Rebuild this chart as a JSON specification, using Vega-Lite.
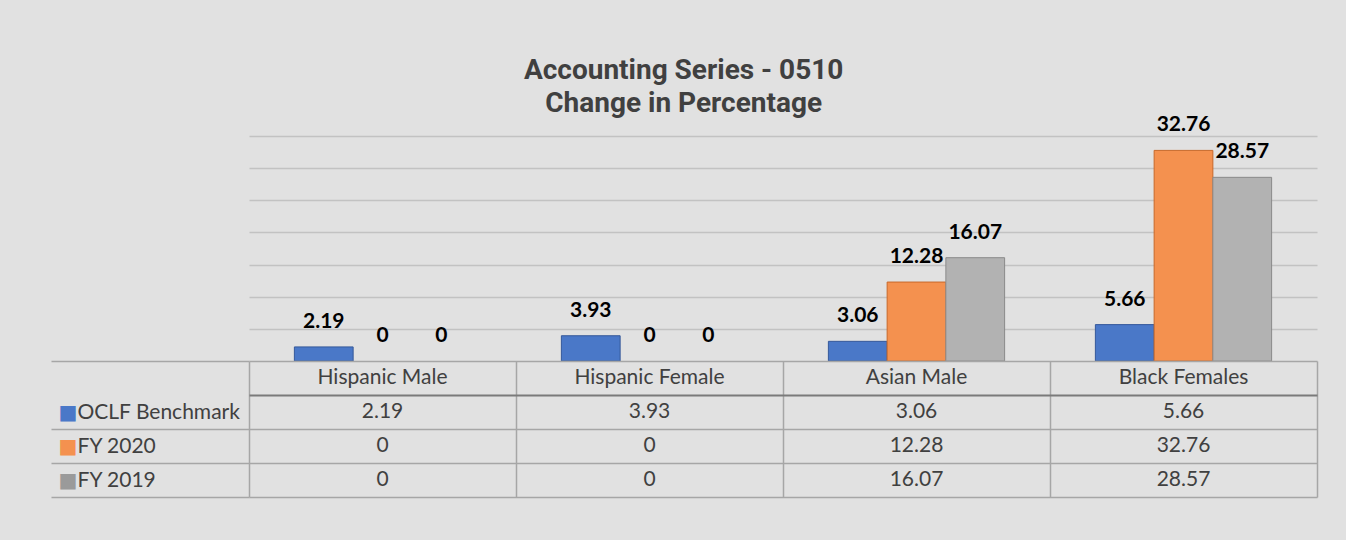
{
  "$schema": "https://vega.github.io/schema/vega-lite/v6.json",
  "background": "#e1e1e1",
  "padding": {"left": 50, "right": 30, "top": 57, "bottom": 42},
  "bounds": "flush",
  "spacing": 0,
  "title": {
    "text": ["Accounting Series - 0510", "Change in Percentage"],
    "fontSize": 28,
    "font": "Roboto",
    "fontWeight": "bold",
    "color": "#404040",
    "lineHeight": 33,
    "anchor": "middle",
    "offset": -4
  },
  "config": {"view": {"stroke": null}, "font": "Lato"},
  "datasets": {
    "d": [
      {"group": "Hispanic Male", "series": "OCLF Benchmark", "value": 2.19},
      {"group": "Hispanic Male", "series": "FY 2020", "value": 0},
      {"group": "Hispanic Male", "series": "FY 2019", "value": 0},
      {"group": "Hispanic  Female", "series": "OCLF Benchmark", "value": 3.93},
      {"group": "Hispanic  Female", "series": "FY 2020", "value": 0},
      {"group": "Hispanic  Female", "series": "FY 2019", "value": 0},
      {"group": "Asian Male", "series": "OCLF Benchmark", "value": 3.06},
      {"group": "Asian Male", "series": "FY 2020", "value": 12.28},
      {"group": "Asian Male", "series": "FY 2019", "value": 16.07},
      {"group": "Black Females", "series": "OCLF Benchmark", "value": 5.66},
      {"group": "Black Females", "series": "FY 2020", "value": 32.76},
      {"group": "Black Females", "series": "FY 2019", "value": 28.57}
    ]
  },
  "vconcat": [
    {
      "width": 1068,
      "height": 225,
      "data": {"name": "d"},
      "encoding": {
        "x": {
          "field": "group", "type": "nominal",
          "sort": ["Hispanic Male", "Hispanic  Female", "Asian Male", "Black Females"],
          "scale": {"paddingInner": 0.34, "paddingOuter": 0.17},
          "axis": null
        },
        "xOffset": {
          "field": "series", "type": "nominal",
          "sort": ["OCLF Benchmark", "FY 2020", "FY 2019"],
          "scale": {"paddingInner": 0, "paddingOuter": 0}
        },
        "y": {
          "field": "value", "type": "quantitative",
          "scale": {"domain": [0, 35], "nice": false},
          "axis": {
            "values": [5, 10, 15, 20, 25, 30, 35],
            "labels": false, "ticks": false, "domain": false,
            "grid": true, "gridColor": "#c2c2c2", "gridWidth": 1.5,
            "title": null
          }
        }
      },
      "layer": [
        {
          "mark": {"type": "bar", "strokeWidth": 1},
          "encoding": {
            "color": {
              "field": "series", "type": "nominal",
              "scale": {"domain": ["OCLF Benchmark", "FY 2020", "FY 2019"], "range": ["#4a78c8", "#f4914f", "#b2b2b2"]},
              "legend": null
            },
            "stroke": {
              "field": "series", "type": "nominal",
              "scale": {"domain": ["OCLF Benchmark", "FY 2020", "FY 2019"], "range": ["#35589a", "#c8682a", "#8a8a8a"]},
              "legend": null
            },
            "strokeOpacity": {"condition": {"test": "datum.value === 0", "value": 0}, "value": 1}
          }
        },
        {
          "mark": {"type": "text", "fontWeight": "bold", "fontSize": 21, "baseline": "middle", "dy": -25, "color": "#000000", "font": "Lato"},
          "encoding": {"text": {"field": "value", "type": "nominal"}}
        }
      ]
    },
    {
      "width": 1068,
      "height": 136,
      "data": {"name": "d"},
      "resolve": {"scale": {"y": "independent"}},
      "layer": [
        {
          "mark": {"type": "text", "fontSize": 21, "color": "#404040", "font": "Lato"},
          "encoding": {
            "x": {
              "field": "group", "type": "nominal",
              "sort": ["Hispanic Male", "Hispanic  Female", "Asian Male", "Black Females"],
              "scale": {"paddingInner": 0, "paddingOuter": 0},
              "axis": {"labels": false, "ticks": false, "domain": false, "grid": true, "tickBand": "extent", "gridColor": "#a6a6a6", "gridWidth": 1.5, "title": null}
            },
            "y": {
              "field": "series", "type": "nominal",
              "scale": {"domain": ["hdr", "OCLF Benchmark", "FY 2020", "FY 2019"], "paddingInner": 0, "paddingOuter": 0},
              "axis": {
                "title": null, "orient": "left", "tickBand": "extent",
                "ticks": true, "tickSize": 198, "tickWidth": 1.5,
                "tickColor": "#a6a6a6",
                "tickOpacity": {"expr": "datum.value === 'hdr' ? 0 : 1"},
                "grid": true,
                "gridColor": {"expr": "datum.value === 'hdr' ? '#7a7a7a' : '#a6a6a6'"},
                "gridWidth": {"expr": "datum.value === 'hdr' ? 2 : 1.5"},
                "domain": false,
                "labelExpr": "datum.value === 'hdr' ? '' : datum.label",
                "labelAlign": "left", "labelPadding": -26,
                "labelFontSize": 21, "labelColor": "#404040", "labelFont": "Lato"
              }
            },
            "text": {"field": "value", "type": "nominal"}
          }
        },
        {
          "transform": [{"filter": "datum.series === 'OCLF Benchmark'"}],
          "mark": {"type": "text", "fontSize": 21, "color": "#404040", "font": "Lato"},
          "encoding": {
            "x": {
              "field": "group", "type": "nominal",
              "sort": ["Hispanic Male", "Hispanic  Female", "Asian Male", "Black Females"]
            },
            "y": {
              "datum": "hdr", "type": "nominal",
              "scale": {"domain": ["hdr", "OCLF Benchmark", "FY 2020", "FY 2019"], "paddingInner": 0, "paddingOuter": 0},
              "axis": {
                "title": null, "orient": "left", "ticks": false, "grid": false, "domain": false,
                "labelExpr": "datum.value === 'hdr' ? '' : '■'",
                "labelAlign": "left", "labelPadding": 191,
                "labelFontSize": 20, "labelFont": "DejaVu Sans",
                "labelColor": {"expr": "datum.value === 'OCLF Benchmark' ? '#4a78c8' : datum.value === 'FY 2020' ? '#f4914f' : '#9a9a9a'"}
              }
            },
            "text": {"field": "group", "type": "nominal"}
          }
        }
      ]
    }
  ]
}
